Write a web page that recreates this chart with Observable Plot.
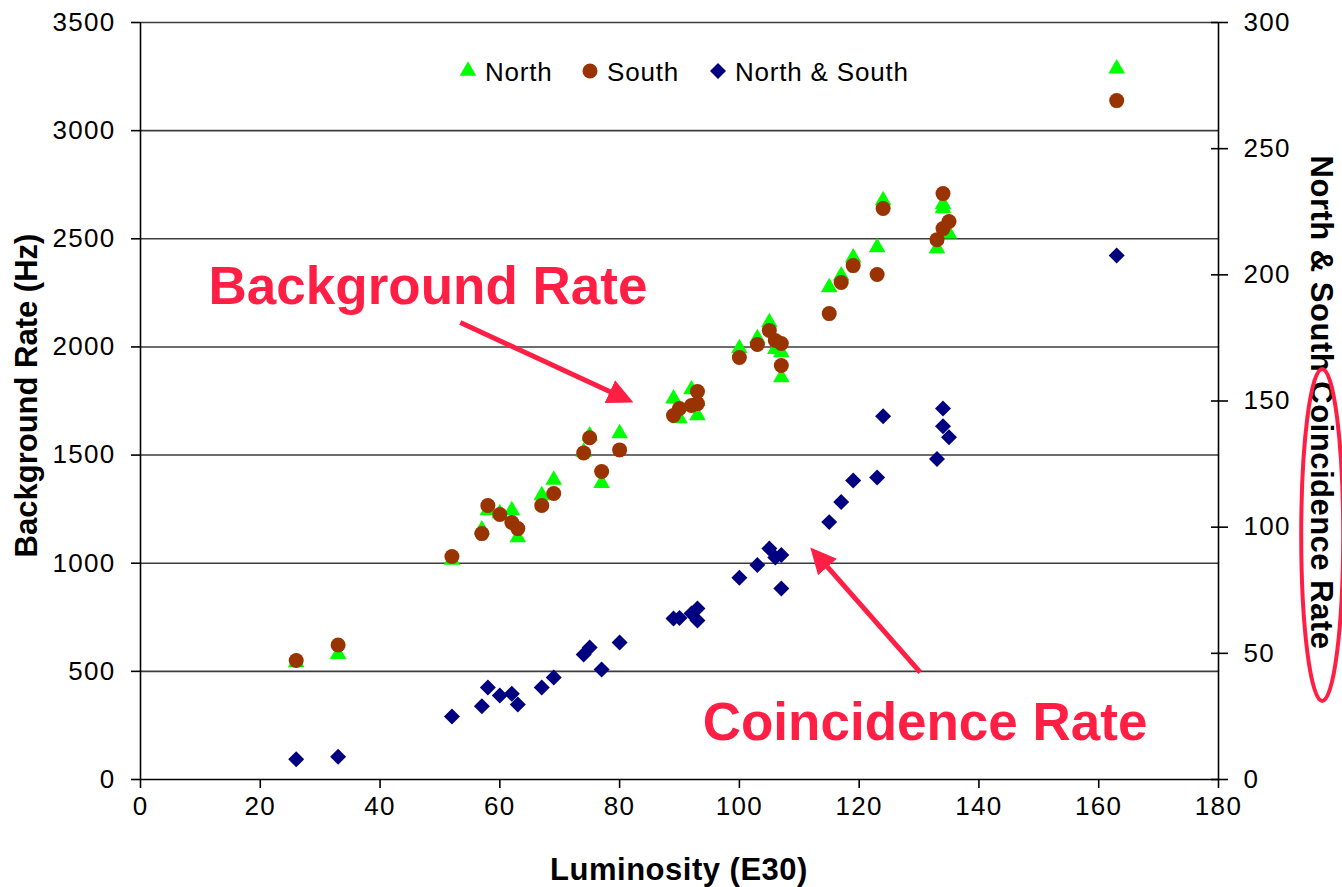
<!DOCTYPE html>
<html>
<head>
<meta charset="utf-8">
<script src="https://cdn.jsdelivr.net/npm/d3@7"></script>
<script src="https://cdn.jsdelivr.net/npm/@observablehq/plot@0.6"></script>
<style>
  body { margin: 0; background: #fff; }
  #chart { position: relative; width: 1342px; height: 887px; }
</style>
</head>
<body>
<div id="chart"></div>
<script>
// Luminosity (E30) of each run
const luminosity = [26, 33, 52, 57, 58, 60, 62, 63, 67, 69, 74, 75, 77, 80,
  89, 90, 92, 93, 93, 100, 103, 105, 106, 107, 107,
  115, 117, 119, 123, 124, 133, 134, 134, 135, 163];

// Background rate (Hz), north detector
const northRate = [541, 580, 1015, 1155, 1244, 1230, 1244, 1119, 1313, 1385, 1515, 1590, 1370, 1600,
  1761, 1669, 1803, 1750, 1683, 1993, 2039, 2113, 1990, 1974, 1859,
  2275, 2330, 2413, 2460, 2677, 2455, 2640, 2660, 2524, 3287];

// Background rate (Hz), south detector
const southRate = [550, 622, 1031, 1137, 1267, 1225, 1188, 1160, 1267, 1322, 1510, 1580, 1424, 1524,
  1683, 1715, 1729, 1794, 1738, 1951, 2011, 2076, 2030, 2016, 1914,
  2154, 2298, 2376, 2335, 2640, 2496, 2709, 2547, 2580, 3139];

// North & South coincidence rate (right axis)
const coincidenceRate = [8, 9, 25, 29, 36.5, 33.3, 34, 29.7, 36.5, 40.4, 49.5, 52.3, 43.6, 54.3,
  63.8, 64, 65.8, 67.8, 63, 80, 85, 91.5, 88, 89, 75.7,
  102, 110, 118.5, 119.7, 144, 127, 147, 140, 135.6, 207.7];

const seriesNames = ["North", "South", "North & South"];
const xTicks = [0, 20, 40, 60, 80, 100, 120, 140, 160, 180];
const leftTicks = [0, 500, 1000, 1500, 2000, 2500, 3000, 3500];
const rightTicks = [0, 50, 100, 150, 200, 250, 300];

// Callouts, anchored in data units
const calloutLabels = ["Background Rate", "Coincidence Rate"];
const calloutTextX = [48, 131];
const calloutTextY = [2275, 259];
const arrowFromX = [53.4, 130.2];
const arrowFromY = [2113, 495];
const arrowToX = [81.4, 112.5];
const arrowToY = [1755, 1052];

const leftMax = 3500, rightMax = 300;
const toLeft = v => v * leftMax / rightMax;

const rows = luminosity.map((x, i) => ({
  x, north: northRate[i], south: southRate[i], both: coincidenceRate[i]
}));
const callouts = calloutLabels.map((label, i) => ({
  label, tx: calloutTextX[i], ty: calloutTextY[i],
  x1: arrowFromX[i], y1: arrowFromY[i], x2: arrowToX[i], y2: arrowToY[i]
}));

const RED = "#ff1f45";
const colors = ["#00ff00", "#993300", "#000080"];
const sizes = [6.2, 7.5, 7.2];
const plain = d => String(d);

const chart = Plot.plot({
  width: 1342,
  height: 887,
  marginLeft: 140,
  marginRight: 124,
  marginTop: 22,
  marginBottom: 108,
  style: {
    fontFamily: "'Liberation Sans', Arial, sans-serif",
    fontSize: "26px",
    color: "#000",
    background: "#fff",
    overflow: "visible"
  },
  x: { domain: [0, 180] },
  y: { domain: [0, leftMax] },
  marks: [
    Plot.ruleY(leftTicks.filter(d => d > 0), { stroke: "#3c3c3c", strokeWidth: 1.6 }),
    Plot.ruleX([0, 180], { stroke: "#000", strokeWidth: 1.6 }),
    Plot.ruleY([0], { stroke: "#000", strokeWidth: 1.6 }),
    Plot.axisX(xTicks, { anchor: "bottom", tickSize: 9, tickPadding: 8, label: null, tickFormat: plain, strokeWidth: 1.6, fontSize: 26 }),
    Plot.axisY(leftTicks, { anchor: "left", tickSize: 9, tickPadding: 16, label: null, tickFormat: plain, strokeWidth: 1.6, fontSize: 26 }),
    Plot.axisY(rightTicks, {
      anchor: "right", y: v => toLeft(v), tickSize: 17, dx: -8, tickPadding: 16,
      label: null, tickFormat: plain, strokeWidth: 1.6, fontSize: 26
    }),
    Plot.dot(rows, { x: "x", y: "north", symbol: "triangle", r: sizes[0], fill: colors[0] }),
    Plot.dot(rows, { x: "x", y: "south", symbol: "circle", r: sizes[1], fill: colors[1] }),
    Plot.dot(rows, { x: "x", y: d => toLeft(d.both), symbol: "diamond2", r: sizes[2], fill: colors[2] }),
    Plot.link(callouts, { x1: "x1", y1: "y1", x2: "x2", y2: "y2", stroke: RED, strokeWidth: 5 }),
    Plot.text(callouts, { x: "tx", y: "ty", text: "label", fill: RED, fontSize: 53, fontWeight: "bold" })
  ]
});

document.getElementById("chart").appendChild(chart);

const svg = d3.select(chart);
svg.selectAll('g[aria-label$="tick label"] text').attr("letter-spacing", "1.3");

// Filled arrowheads for the callout links
const defs = svg.insert("defs", ":first-child");
defs.append("marker")
  .attr("id", "callout-head")
  .attr("markerUnits", "userSpaceOnUse")
  .attr("viewBox", "0 0 26 25")
  .attr("markerWidth", 26)
  .attr("markerHeight", 25)
  .attr("refX", 20)
  .attr("refY", 12.5)
  .attr("orient", "auto")
  .append("path")
  .attr("d", "M0,0L26,12.5L0,25Z")
  .attr("fill", RED);
svg.selectAll('g[aria-label="link"] path').attr("marker-end", "url(#callout-head)");

const xs = chart.scale("x"), ys = chart.scale("y");
const frameLeft = xs.apply(0), frameRight = xs.apply(180);
const frameTop = ys.apply(leftMax), frameBottom = ys.apply(0);
const frameMid = (frameTop + frameBottom) / 2;

// Axis titles
const titleFont = "'Liberation Sans', Arial, sans-serif";
svg.append("text")
  .attr("x", (frameLeft + frameRight) / 2)
  .attr("y", frameBottom + 101)
  .attr("text-anchor", "middle")
  .attr("font-family", titleFont).attr("font-weight", "bold")
  .attr("font-size", 31).attr("letter-spacing", 0.5)
  .text("Luminosity (E30)");
svg.append("text")
  .attr("transform", `translate(37,${frameMid - 5}) rotate(-90)`)
  .attr("text-anchor", "middle")
  .attr("font-family", titleFont).attr("font-weight", "bold")
  .attr("font-size", 31)
  .text("Background Rate (Hz)");
svg.append("text")
  .attr("transform", `translate(${frameRight + 93},${frameMid + 2}) rotate(90)`)
  .attr("text-anchor", "middle")
  .attr("font-family", titleFont).attr("font-weight", "bold")
  .attr("font-size", 31).attr("letter-spacing", 0.5)
  .text("North & South Coincidence Rate");

// Ring around the right-hand title
svg.append("ellipse")
  .attr("cx", xs.apply(197.4))
  .attr("cy", ys.apply(toLeft(96.7)))
  .attr("rx", 21)
  .attr("ry", 166)
  .attr("fill", "none")
  .attr("stroke", RED)
  .attr("stroke-width", 4);

// Legend inside the plot area, top
const legendSymbols = [d3.symbolTriangle, d3.symbolCircle, d3.symbolDiamond2];
const legendX = [468, 590, 718];
const legend = svg.append("g")
  .attr("font-family", titleFont)
  .attr("font-size", 26)
  .attr("letter-spacing", 0.8)
  .attr("text-anchor", "start");
seriesNames.forEach((name, i) => {
  legend.append("path")
    .attr("transform", `translate(${legendX[i]},71)`)
    .attr("d", d3.symbol(legendSymbols[i], Math.PI * sizes[i] ** 2)())
    .attr("fill", colors[i]);
  legend.append("text")
    .attr("x", legendX[i] + 17)
    .attr("y", 80.5)
    .text(name);
});
</script>
</body>
</html>
